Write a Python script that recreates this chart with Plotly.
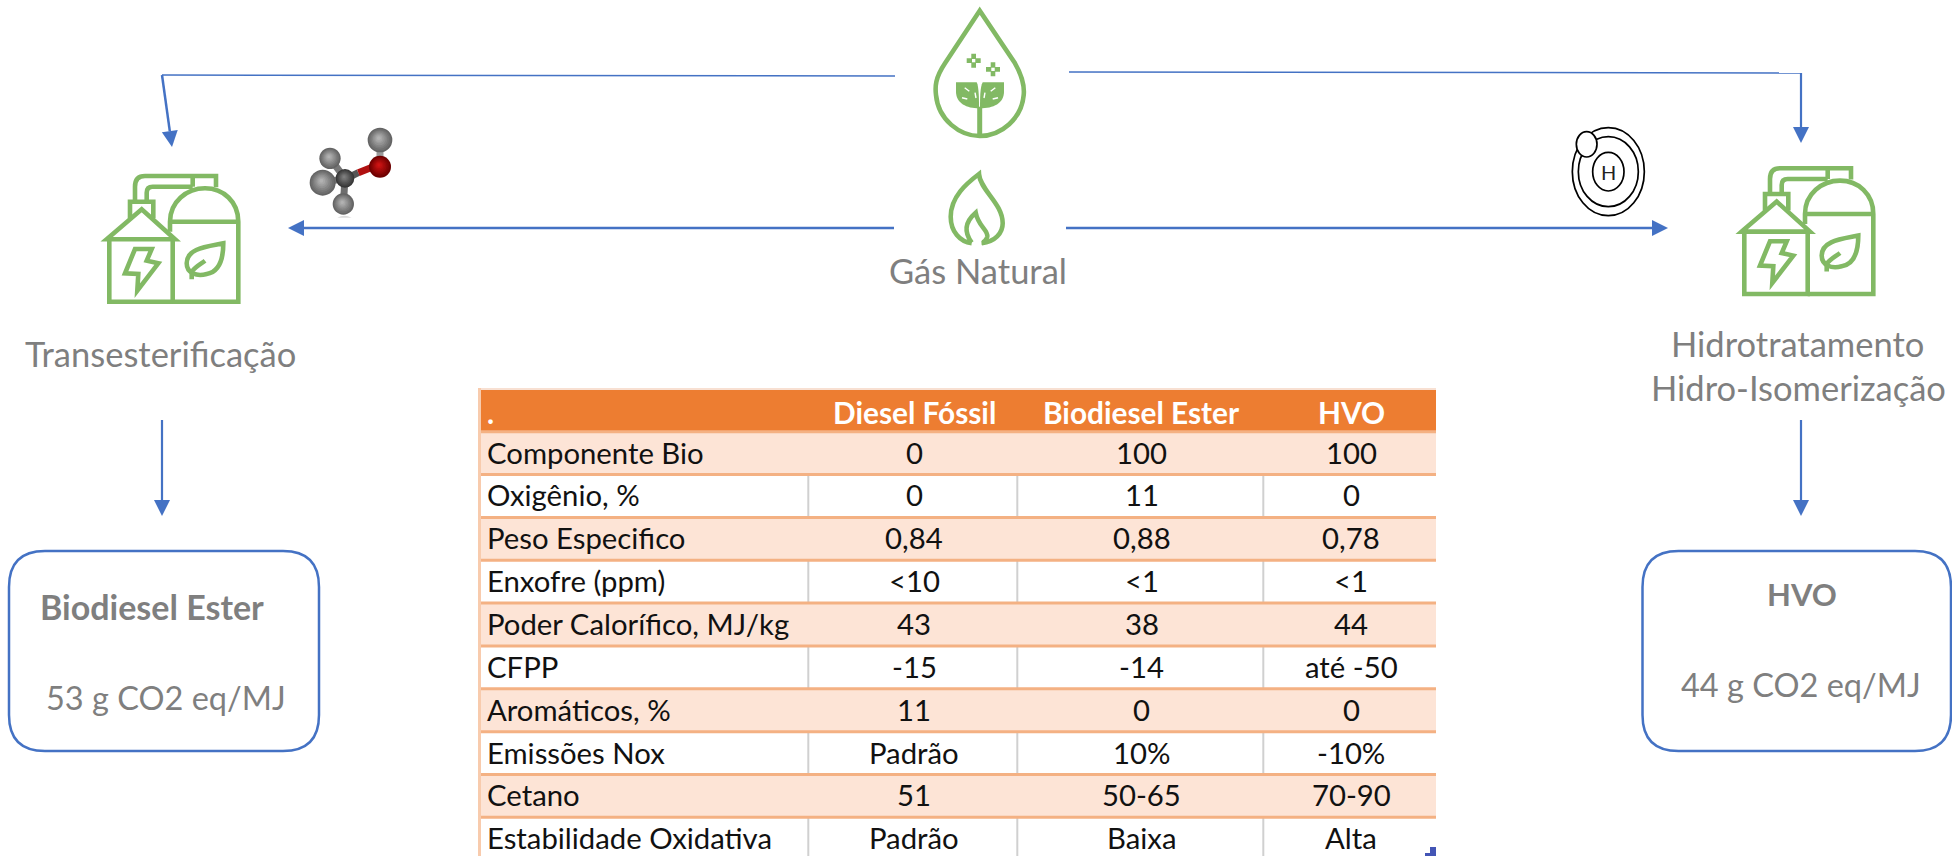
import plotly.graph_objects as go

# ---------- content ----------
columns = [".", "Diesel Fóssil", "Biodiesel Ester", "HVO"]
properties = ["Componente Bio", "Oxigênio, %", "Peso Especifico", "Enxofre (ppm)", "Poder Calorífico, MJ/kg",
              "CFPP", "Aromáticos, %", "Emissões Nox", "Cetano", "Estabilidade Oxidativa"]
diesel_fossil = ["0", "0", "0,84", "<10", "43", "-15", "11", "Padrão", "51", "Padrão"]
biodiesel_ester = ["100", "11", "0,88", "<1", "38", "-14", "0", "10%", "50-65", "Baixa"]
hvo = ["100", "0", "0,78", "<1", "44", "até -50", "0", "-10%", "70-90", "Alta"]

FONT = "Lato"
BLUE = "#4472C4"
GREEN = "#82B964"
GREY = "#7F7F7F"
ORANGE = "#ED7D31"
PEACH = "#F4B183"
PALE = "#FDE4D6"
TXT = "#111111"

shapes, ann = [], []


def line(x0, y0, x1, y1, color, w, layer="above"):
    shapes.append(dict(type="line", x0=x0, y0=y0, x1=x1, y1=y1, xref="x", yref="y",
                       line=dict(color=color, width=w), layer=layer))


def rect(x0, y0, x1, y1, fill):
    shapes.append(dict(type="rect", x0=x0, y0=y0, x1=x1, y1=y1, xref="x", yref="y",
                       fillcolor=fill, line=dict(width=0), layer="below"))


def path(d, color=None, w=0, fill=None, layer="above"):
    s = dict(type="path", path=d, xref="x", yref="y", layer=layer, line=dict(width=w, color=color or "rgba(0,0,0,0)"))
    if fill:
        s["fillcolor"] = fill
    shapes.append(s)


def text(x, y, t, size, color=GREY, anchor="center", bold=False):
    ann.append(dict(x=x, y=y, xref="x", yref="y", text=f"<b>{t}</b>" if bold else t, showarrow=False,
                    xanchor=anchor, yanchor="middle", font=dict(family=FONT, size=size, color=color),
                    borderpad=0, borderwidth=0))


def arrow(pts, w=2.2, head=(8, 16)):
    d = "M" + " L".join(f"{x},{y}" for x, y in pts[:-1])
    (x1, y1), (x2, y2) = pts[-2], pts[-1]
    L = ((x2 - x1) ** 2 + (y2 - y1) ** 2) ** 0.5
    ux, uy = (x2 - x1) / L, (y2 - y1) / L
    bx, by = x2 - ux * head[1], y2 - uy * head[1]
    d += f" L{bx},{by}"
    path(d, BLUE, w)
    px, py = -uy * head[0], ux * head[0]
    path(f"M{x2},{y2} L{bx + px},{by + py} L{bx - px},{by - py} Z", fill=BLUE)


def transform(d, ox, oy, k=1 / 3):
    out = []
    for tok in d.split():
        if tok[0].isalpha():
            cmd = tok[0]
            tok = tok[1:]
            if not tok:
                out.append(cmd)
                continue
            a, b = tok.split(",")
            out.append(f"{cmd}{ox + float(a) * k:.1f},{oy + float(b) * k:.1f}")
        else:
            a, b = tok.split(",")
            out.append(f"{ox + float(a) * k:.1f},{oy + float(b) * k:.1f}")
    return " ".join(out)


# ---------- table ----------
TL, TR = 481, 1436
COLX = [808.3, 1017.3, 1263.3]
COLC = [914, 1141.5, 1351]
ROW0, PITCH = 431.7, 42.85
CELL = 29.3
HEAD = 29.8
rect(478, 388, TR, 391, "#F8E0D2")
rect(478, 388, 481, 856, "#F8CBAD")
rect(TL, 390, TR, 431, ORANGE)
for i, name in enumerate(properties):
    y0 = ROW0 + i * PITCH
    y1 = y0 + PITCH
    if i % 2 == 0:
        rect(TL, y0, TR, y1, PALE)
    else:
        for cx in COLX:
            line(cx, y0, cx, min(y1, 856), "#D0D0D0", 2, "below")
    line(TL, y0, TR, y0, PEACH, 3, "below")
    yc = y0 + PITCH / 2 - 1
    text(487, yc, name, CELL, TXT, "left")
    text(COLC[0], yc, diesel_fossil[i], CELL, TXT)
    text(COLC[1], yc, biodiesel_ester[i], CELL, TXT)
    text(COLC[2], yc, hvo[i], CELL, TXT)
text(487, 412, columns[0], HEAD, "white", "left", True)
for cx, c in zip(COLC, columns[1:]):
    text(cx, 412, c, HEAD, "white", "center", True)
path("M1425,856 L1425,853 L1430,853 L1430,847 L1436,847 L1436,856 Z", fill="#4355B5")

# ---------- arrows ----------
path("M895,76 L162,75", BLUE, 1.5)
arrow([(162, 75), (172, 147)], 2.5)
path("M1069,72 L1801,73", BLUE, 1.5)
arrow([(1801, 73), (1801, 143)], 2.2)
arrow([(894, 228), (288, 228)], 2.5)
arrow([(1066, 228), (1668, 228)], 2.5)
arrow([(162, 420), (162, 516)], 2.2)
arrow([(1801, 420), (1801, 516)], 2.2)


# ---------- boxes ----------
def rrect(x0, y0, x1, y1, r):
    return (f"M{x0 + r},{y0} L{x1 - r},{y0} Q{x1},{y0} {x1},{y0 + r} L{x1},{y1 - r} Q{x1},{y1} {x1 - r},{y1} "
            f"L{x0 + r},{y1} Q{x0},{y1} {x0},{y1 - r} L{x0},{y0 + r} Q{x0},{y0} {x0 + r},{y0} Z")


path(rrect(9, 551, 319, 751, 36), BLUE, 2.5)
path(rrect(1642.5, 551, 1951, 751, 36), BLUE, 2.5)

# ---------- labels ----------
text(160, 353, "Transesterificação", 34.5)
text(978, 270, "Gás Natural", 34.5)
text(1797, 343, "Hidrotratamento", 34.5)
text(1798, 387, "Hidro-Isomerização", 34.5)
text(152, 606, "Biodiesel Ester", 34, GREY, "center", True)
text(166, 697, "53 g CO2 eq/MJ", 32.5)
text(1802, 594, "HVO", 31, GREY, "center", True)
text(1801, 684, "44 g CO2 eq/MJ", 32.5)

# ---------- factory icon (two copies) ----------
factory_strokes = [
    "M88,568 L88,755 L278,755 L278,568",
    "M80,568 L185,478 L285,568 Z",
    "M150,505 L150,455 L220,455 L220,505",
    "M278,755 L475,755 L475,515 C475,455 430,415 375,415 C320,415 270,455 270,515 L270,545",
    "M270,515 L475,515",
    "M165,455 L165,410 Q165,378 195,378 L408,378 L408,412",
    "M200,455 L200,428 Q200,410 218,410 L338,410",
    "M338,378 L338,410",
    "M165,597 L215,597 L200,632 L235,640 L172,722 L175,672 L135,670 Z",
    "M430,580 C380,590 320,595 320,640 C320,670 350,680 380,672 C420,665 430,620 430,580 Z",
    "M335,688 L335,665 C345,650 365,640 375,632",
]
for ox, oy in [(80, 50), (1715, 42.3)]:
    for d in factory_strokes:
        path(transform(d, ox, oy), GREEN, 4.6)

# ---------- drop icon ----------
OX, OY = 880, 0
path(transform("M299,32 L195,190 C165,235 165,260 168,285 C175,360 240,408 299,408 C365,408 425,355 431,285 C434,255 425,225 405,190 Z", OX, OY), GREEN, 4.6)
path(transform("M299,320 L299,405", OX, OY), GREEN, 5)
path(transform("M228,247 L290,247 C297,260 297,300 297,325 C260,325 228,310 228,275 Z", OX, OY), fill=GREEN)
path(transform("M372,247 L308,247 C300,260 300,300 300,325 C340,325 372,310 372,275 Z", OX, OY), fill=GREEN)
for d in ["M254,263 L268,274", "M246,293 L262,297", "M285,278 L288,294", "M346,263 L332,274", "M354,293 L338,297", "M315,278 L312,294"]:
    path(transform(d, OX, OY), "white", 1.4)
for cx, cy in [(281, 182), (339, 208)]:
    path(transform(f"M{cx-21},{cy-7} L{cx-7},{cy-7} L{cx-7},{cy-21} L{cx+7},{cy-21} L{cx+7},{cy-7} L{cx+21},{cy-7} L{cx+21},{cy+7} L{cx+7},{cy+7} L{cx+7},{cy+21} L{cx-7},{cy+21} L{cx-7},{cy+7} L{cx-21},{cy+7} Z", OX, OY), fill=GREEN)
    path(transform(f"M{cx-5},{cy-5} L{cx+5},{cy-5} L{cx+5},{cy+5} L{cx-5},{cy+5} Z", OX, OY), fill="white")

# ---------- flame icon ----------
path(transform("M275,730 C240,725 212,695 212,650 C212,590 260,550 297,522 C300,570 368,610 368,670 C368,700 345,725 305,730", OX, OY), GREEN, 4.6)
path(transform("M275,728 C255,700 250,670 287,638 C295,680 325,690 322,710 C320,720 310,728 305,728", OX, OY), GREEN, 4.6)

# ---------- hydrogen icon ----------
HX, HY = 1540, 110
for rx, ry, w in [(108, 132, 1.7), (90, 105, 1.7), (47, 58, 1.7)]:
    shapes.append(dict(type="circle", xref="x", yref="y", x0=HX + (205 - rx) / 3, x1=HX + (205 + rx) / 3,
                       y0=HY + (185 - ry) / 3, y1=HY + (185 + ry) / 3, line=dict(color="black", width=w)))
shapes.append(dict(type="circle", xref="x", yref="y", x0=HX + 109 / 3, x1=HX + 171 / 3, y0=HY + 65 / 3,
                   y1=HY + 141 / 3, fillcolor="white", line=dict(color="black", width=1.7)))
text(HX + 205 / 3, HY + 185 / 3, "H", 20, "#222222")

# ---------- methanol molecule ----------
MX, MY = 80, 50
for x0, y0, x1, y1, c in [(795, 385, 750, 325, "#777777"), (795, 385, 728, 398, "#777777"),
                          (795, 385, 790, 462, "#6E6E6E"), (900, 350, 900, 270, "#9A9A9A")]:
    line(MX + x0 / 3, MY + y0 / 3, MX + x1 / 3, MY + y1 / 3, c, 7)
line(MX + 800 / 3, MY + 385 / 3, MX + 835 / 3, MY + 368 / 3, "#555555", 7)
line(MX + 835 / 3, MY + 368 / 3, MX + 880 / 3, MY + 350 / 3, "#B01010", 7)
path(transform("M772,503 Q792,492 815,503 Z", MX, MY), fill="#DDDDDD")


def mix(a, b, t):
    return "#" + "".join(f"{round(a[i] + (b[i] - a[i]) * t):02X}" for i in range(3))


def sphere(zx, zy, zr, dark, light, steps=8):
    """Shaded ball: nested discs that shrink towards the highlight."""
    for n in range(steps):
        t = n / (steps - 1)
        r = zr * (1 - 0.85 * t) / 3
        cx = MX + (zx - zr * 0.1 * t) / 3
        cy = MY + (zy - zr * 0.15 * t) / 3
        c = mix(dark, light, t)
        shapes.append(dict(type="circle", xref="x", yref="y", x0=cx - r, x1=cx + r, y0=cy - r, y1=cy + r,
                           fillcolor=c, line=dict(width=0)))


GREY_D, GREY_L = (100, 100, 100), (178, 178, 178)
sphere(750, 325, 32, GREY_D, GREY_L)
sphere(728, 398, 39, GREY_D, GREY_L)
sphere(790, 462, 32, GREY_D, GREY_L)
sphere(900, 270, 37, GREY_D, GREY_L)
sphere(795, 385, 28, (55, 55, 55), (125, 125, 125))
sphere(900, 350, 33, (110, 0, 0), (205, 20, 20))

fig = go.Figure()
fig.update_layout(
    width=1952, height=856, margin=dict(l=0, r=0, t=0, b=0), showlegend=False,
    paper_bgcolor="white", plot_bgcolor="white", shapes=shapes, annotations=ann,
    xaxis=dict(range=[0, 1952], visible=False, fixedrange=True),
    yaxis=dict(range=[856, 0], visible=False, fixedrange=True),
)
post = ("document.body.style.margin='0';document.body.style.overflow='hidden';"
        "var s=document.createElement('style');s.textContent='text{font-variant-ligatures:none}';"
        "document.head.appendChild(s);Plotly.redraw('{plot_id}');")
fig.write_html("out.html", config={"displayModeBar": False}, post_script=post)
